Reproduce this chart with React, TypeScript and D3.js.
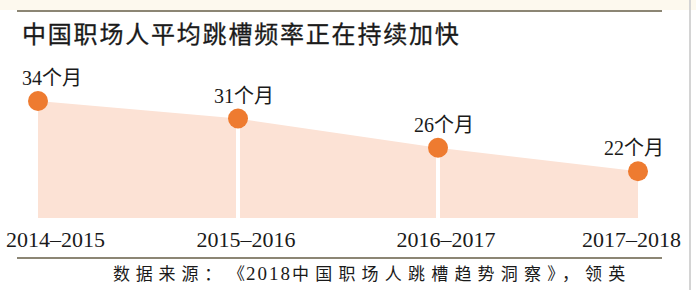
import React from "react";
import * as d3 from "d3";

const periods = ["2014–2015", "2015–2016", "2016–2017", "2017–2018"];
const months = [34, 31, 26, 22];
const unit = "个月";
const title = "中国职场人平均跳槽频率正在持续加快";
const sourceLead = "数据来源：";
const sourceYear = "2018";
const sourceName = "中国职场人跳槽趋势洞察";
const sourceTail = "》，领英";

const W = 696;
const H = 290;
const FONT = "'Liberation Serif', 'Noto Sans CJK SC', serif";

export default function App() {
  const x = d3.scalePoint<string>().domain(periods).range([38, 638]);
  const y = d3.scaleLinear().domain([14, 34]).range([218, 101]);
  const base = y(14);

  // one shaded panel per interval between neighbouring points
  const segments = months.slice(0, -1).map((_, i) => months.slice(i, i + 2));

  const approxWidth = (s: string, size: number) =>
    Array.from(s).reduce((w, ch) => w + (/[\u4e00-\u9fff]/.test(ch) ? size : size * 0.5), 0);

  const clampCenter = (cx: number, w: number, lo: number, hi: number) =>
    Math.min(Math.max(cx, lo + w / 2), hi - w / 2);

  return (
    <svg
      width={W}
      height={H}
      style={{ position: "absolute", left: 0, top: 0, background: "#fff" }}
      fontFamily={FONT}
    >
      <rect x={0} y={0} width={W} height={10} fill="#fdf9ee" />
      <line x1={17} x2={662} y1={11} y2={11} stroke="#8c8674" strokeWidth={2} />
      <line x1={690} x2={690} y1={0} y2={H} stroke="#d4d4d4" strokeWidth={2} />

      <text x={22} y={43} fontSize={24} fontWeight={400} letterSpacing={1.8} fill="#1a1a1a"
        fontFamily="'Noto Sans CJK SC', sans-serif" stroke="#1a1a1a" strokeWidth={0.3}>
        {title}
      </text>

      {segments.map((seg, i) => {
        const panel = d3
          .area<number>()
          .x((_, j) => x(periods[i + j]) as number)
          .y0(base)
          .y1((d) => y(d));
        return <path key={i} d={panel(seg) ?? ""} fill="#fce2d5" />;
      })}
      {periods.slice(1, -1).map((p) => (
        <line key={p} x1={x(p)} x2={x(p)} y1={y(months[periods.indexOf(p)])} y2={base}
          stroke="#ffffff" strokeWidth={4} />
      ))}

      {months.map((v, i) => (
        <circle key={i} cx={x(periods[i])} cy={y(v)} r={10} fill="#ee7b30" />
      ))}

      {months.map((v, i) => {
        const label = `${v}${unit}`;
        const w = approxWidth(label, 20);
        const cx = clampCenter((x(periods[i]) as number) + 6, w, 22, 664);
        return (
          <text key={i} x={cx} y={y(v) - 16} fontSize={20} textAnchor="middle" fill="#1a1a1a">
            {label}
          </text>
        );
      })}

      {periods.map((p) => {
        const w = 99;
        const cx = clampCenter((x(p) as number) + 8, w, 6, 681);
        return (
          <text key={p} x={cx} y={247} fontSize={22} textAnchor="middle" fill="#1a1a1a">
            {p}
          </text>
        );
      })}

      <line x1={17} x2={662} y1={258} y2={258} stroke="#8c8674" strokeWidth={2} />

      <text y={280} fontSize={17} fill="#1a1a1a">
        <tspan x={113} letterSpacing={5.8}>{sourceLead}</tspan>
        <tspan x={228} letterSpacing={0}>《</tspan>
        <tspan x={246} fontSize={19} letterSpacing={2}>{sourceYear}</tspan>
        <tspan letterSpacing={6.2}>{sourceName}</tspan>
        <tspan letterSpacing={6.2}>{sourceTail}</tspan>
      </text>
    </svg>
  );
}
